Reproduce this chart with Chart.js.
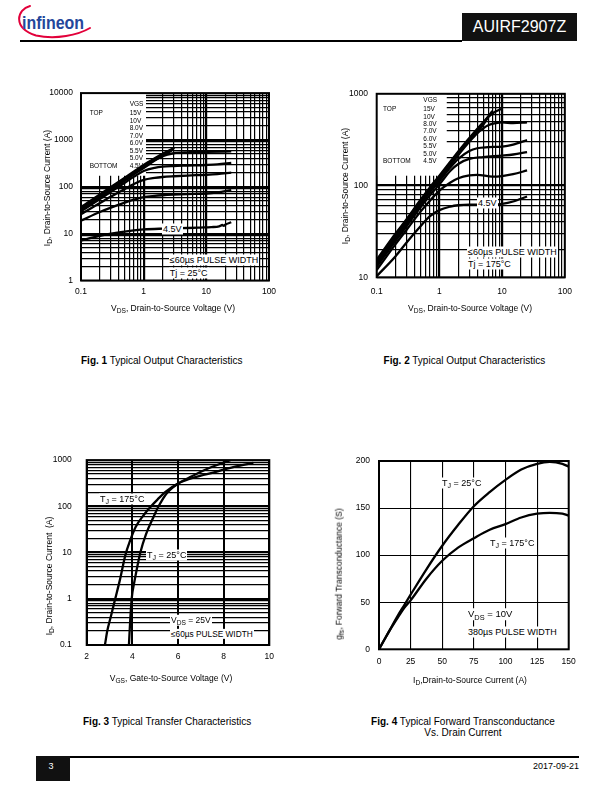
<!DOCTYPE html>
<html><head><meta charset="utf-8">
<script src="https://cdn.jsdelivr.net/npm/chart.js@4.4.1/dist/chart.umd.min.js"></script>
<style>
html,body{margin:0;padding:0;background:#fff;}
#page{position:relative;width:612px;height:792px;overflow:hidden;font-family:"Liberation Sans",Arial,sans-serif;color:#000;}
.abs{position:absolute;white-space:nowrap;line-height:1;}
canvas{position:absolute;}
sub{font-size:78%;vertical-align:-0.35em;line-height:0;}
</style></head>
<body><div id="page">
<svg style="position:absolute;left:0;top:0" width="120" height="45">
  <path d="M30 6 C 17 9, 12 28, 36 35.5 C 56 40, 78 35, 90 28" fill="none" stroke="#e2003a" stroke-width="2" stroke-linecap="round"/>
  <text x="22" y="29" font-family="Liberation Sans Narrow, Liberation Sans, Arial" font-weight="bold" font-size="19" fill="#24469b" textLength="62" lengthAdjust="spacingAndGlyphs">infineon</text>
</svg>
<div style="position:absolute;left:20px;top:40px;width:442px;height:1.5px;background:#000"></div>
<div style="position:absolute;left:461.7px;top:13px;width:115.6px;height:28px;background:#111;color:#fff;font-size:16px;line-height:28px;text-align:center;">AUIRF2907Z</div>
<div style="position:absolute;left:36px;top:755.6px;width:543px;height:2px;background:#000"></div>
<div style="position:absolute;left:36px;top:756px;width:34px;height:25px;background:#111;"></div>
</div>
<script>
// ---------- Fig. 1: Typical Output Characteristics, Tj = 25°C ----------
const fig1_vgs = ['15V','10V','8.0V','7.0V','6.0V','5.5V','5.0V','4.5V'];
const fig1_vds_15V = [0.1,0.15,0.2,0.3,0.5,0.7,1,1.5,2,3.1];
const fig1_id_15V  = [37,53,69,99,157,212,292,405,505,680];
const fig1_vds_10V = [0.1,0.15,0.2,0.3,0.5,0.7,1,1.5,2,3];
const fig1_id_10V  = [35,51,66,95,151,203,282,392,485,645];
const fig1_vds_8V  = [0.1,0.15,0.2,0.3,0.5,0.7,1,1.5,2,2.8];
const fig1_id_8V   = [34,49,63,91,144,194,268,372,455,595];
const fig1_vds_7V  = [0.1,0.2,0.3,0.5,0.7,1,1.5,2,3,5,10,25];
const fig1_id_7V   = [32,59,86,136,186,252,362,450,520,545,555,568];
const fig1_vds_6V  = [0.1,0.2,0.3,0.5,0.7,1,1.5,2,3,5,10,15,25];
const fig1_id_6V   = [30,55,78,122,165,218,255,270,278,284,292,300,322];
const fig1_vds_55V = [0.1,0.2,0.3,0.5,0.7,1,1.5,2,3,5,10,15,25];
const fig1_id_55V  = [26,45,62,90,115,140,155,162,168,174,180,186,200];
const fig1_vds_5V  = [0.1,0.2,0.3,0.5,0.7,1,1.5,2,3,5,10,15,25];
const fig1_id_5V   = [19,29,36,46,53,60,64,66,68,70,72,76,85];
const fig1_vds_45V = [0.1,0.15,0.2,0.3,0.5,0.7,1,2,3,5,8,12,16,18,19,20,25];
const fig1_id_45V  = [7.1,8.2,9,10,11,11.8,12.3,12.8,13,13.2,13.5,13.8,14.3,15.3,14.6,15.5,17.5];
const fig1_xTicks = [0.1,1,10,100];
const fig1_yTicks = [1,10,100,1000,10000];

// ---------- Fig. 2: Typical Output Characteristics, Tj = 175°C ----------
const fig2_vds_15V = [0.1,0.2,0.3,0.5,0.7,1,2,3,5,7,10];
const fig2_id_15V  = [15.5,30,43,70,95,128,235,330,490,610,690];
const fig2_vds_10V = [0.1,0.2,0.3,0.5,0.7,1,2,3,5,7];
const fig2_id_10V  = [15,29,42,68,92,124,228,320,480,650];
const fig2_vds_8V  = [0.1,0.2,0.3,0.5,0.7,1,2,3,5,6];
const fig2_id_8V   = [14.5,28,41,66,90,121,222,312,460,560];
const fig2_vds_7V  = [0.1,0.2,0.3,0.5,0.7,1,2,3,4,5,6,8,10,15,25];
const fig2_id_7V   = [14,27,40,64,87,117,215,300,370,420,455,480,488,478,488];
const fig2_vds_6V  = [0.1,0.2,0.3,0.5,0.7,1,1.5,2,3,4,6,10,15,25];
const fig2_id_6V   = [13.5,26,38,62,84,112,158,195,238,255,262,266,280,313];
const fig2_vds_55V = [0.1,0.2,0.3,0.5,0.7,1,1.5,2,3,5,10,15,25];
const fig2_id_55V  = [13,25,36,58,78,103,145,172,195,204,212,218,231];
const fig2_vds_5V  = [0.1,0.2,0.3,0.5,0.7,1,1.5,2,3,4,7,10,15,25];
const fig2_id_5V   = [12,23,33,52,68,88,108,120,129,131,125,127,133,146];
const fig2_vds_45V = [0.1,0.2,0.3,0.5,0.7,1,1.5,2,3,4,6,10,15,25];
const fig2_id_45V  = [10.3,17,24,36,46,54,59,61,62,62,61,63,67,76];
const fig2_xTicks = [0.1,1,10,100];
const fig2_yTicks = [10,100,1000];

// ---------- Fig. 3: Typical Transfer Characteristics ----------
const fig3_vgs_25C  = [3.85,3.9,3.97,4.1,4.2,4.35,4.6,4.9,5.15,5.5,6,6.5,7,7.5,8,8.3];
const fig3_id_25C   = [0.1,0.3,1,2.5,4.5,10,25,55,100,190,310,420,560,720,880,1000];
const fig3_vgs_175C = [2.8,2.9,3.05,3.25,3.45,3.7,3.9,4.15,4.5,4.75,5.1,5.45,6,6.5,7,7.5,8,8.5,9.3];
const fig3_id_175C  = [0.1,0.2,0.4,1,2.5,9,18,36,65,92,140,205,310,390,460,530,620,720,870];
const fig3_xTicks = [2,4,6,8,10];
const fig3_yTicks = [0.1,1,10,100,1000];

// ---------- Fig. 4: Typical Forward Transconductance vs. Drain Current ----------
const fig4_id_25C   = [0,5,10,15,20,25,37.5,50,62.5,75,87.5,100,112.5,125,135,145,150];
const fig4_gfs_25C  = [0,12,24,36,47,58,85,110,132,152,167,180,191,197,199,197,194];
const fig4_id_175C  = [0,5,10,15,20,25,37.5,50,62.5,75,87.5,100,112.5,125,135,145,150];
const fig4_gfs_175C = [0,12,23.5,34,44,52,75,94,108,118,127,133,140,144,145,144,142];
const fig4_xTicks = [0,25,50,75,100,125,150];
const fig4_yTicks = [0,50,100,150,200];

// ---------------- rendering ----------------
const FONT = '"Liberation Sans", Arial, sans-serif';
Chart.defaults.font.family = FONT;
Chart.defaults.color = '#000';
const page = document.getElementById('page');

function txt(html, x, y, size, o = {}) {
  const d = document.createElement('div');
  d.className = 'abs'; d.innerHTML = html;
  d.style.left = x + 'px'; d.style.top = y + 'px'; d.style.fontSize = size + 'px';
  let tf = o.align === 'center' ? 'translate(-50%,-50%)' : o.align === 'right' ? 'translate(-100%,-50%)' : 'translate(0,-50%)';
  if (o.rot) tf = 'translate(-50%,-50%) rotate(-90deg)';
  d.style.transform = tf;
  if (o.bg) { d.style.background = '#fff'; d.style.padding = '1px 1px'; }
  if (o.bold) d.style.fontWeight = 'bold';
  if (o.color) d.style.color = o.color;
  if (o.lh) d.style.lineHeight = o.lh;
  if (o.ta) d.style.textAlign = o.ta;
  page.appendChild(d); return d;
}

function logGrid(min, max) {
  const out = [];
  for (let e = Math.round(Math.log10(min)); e < Math.round(Math.log10(max)); e++)
    for (let m = 1; m < 10; m++) out.push(+(m * Math.pow(10, e)).toPrecision(3));
  out.push(max);
  return out;
}
const near = (a, b) => Math.abs(a - b) < 1e-9 * Math.max(1, Math.abs(b));
const inList = (v, list) => list.some(t => near(v, t));

const framePlugin = {
  id: 'frame',
  beforeDatasetsDraw(chart, args, opts) {
    if (!opts || !opts.box) return;
    const { x, y } = chart.scales, c = chart.ctx, b = opts.box;
    const x0 = x.getPixelForValue(b.x0), x1 = x.getPixelForValue(b.x1);
    const y0 = y.getPixelForValue(b.y0), y1 = y.getPixelForValue(b.y1);
    c.save(); c.fillStyle = '#fff';
    c.fillRect(Math.min(x0, x1), Math.min(y0, y1), Math.abs(x1 - x0), Math.abs(y1 - y0));
    c.restore();
  },
  afterDraw(chart) {
    const a = chart.chartArea, c = chart.ctx;
    c.save(); c.strokeStyle = '#000'; c.lineWidth = 2;
    c.strokeRect(a.left, a.top, a.right - a.left, a.bottom - a.top);
    c.restore();
  }
};

function axis(o) {
  const s = {
    type: o.type, min: o.min, max: o.max,
    afterFit: ax => { if (o.w !== undefined) ax.width = o.w; if (o.h !== undefined) ax.height = o.h; },
    ticks: {
      autoSkip: false, maxRotation: 0, minRotation: 0, padding: o.pad, color: '#000',
      font: { size: 8.5, family: FONT },
      callback: v => inList(v, o.labels) ? String(+(+v).toPrecision(6)) : ''
    },
    grid: {
      color: '#000', drawTicks: false,
      lineWidth: c => (c.tick && inList(c.tick.value, o.majors || [])) ? (o.majorW || 2.2) : (o.minorW || 1.2)
    },
    border: { display: false }
  };
  if (o.gridVals) s.afterBuildTicks = ax => { ax.ticks = o.gridVals.map(v => ({ value: v })); };
  return s;
}

function makeChart(left, top, w, h, pad, xs, ys, series, box) {
  const cv = document.createElement('canvas');
  cv.width = w; cv.height = h;
  cv.style.left = left + 'px'; cv.style.top = top + 'px';
  cv.style.width = w + 'px'; cv.style.height = h + 'px';
  page.appendChild(cv);
  return new Chart(cv, {
    type: 'scatter',
    data: {
      datasets: series.map(([xv, yv]) => ({
        data: xv.map((x, i) => ({ x, y: yv[i] })),
        showLine: true, borderColor: '#000', borderWidth: 2.3, pointRadius: 0,
        cubicInterpolationMode: 'monotone', fill: false
      }))
    },
    options: {
      responsive: false, animation: false, devicePixelRatio: 1,
      layout: { padding: pad },
      plugins: { legend: { display: false }, tooltip: { enabled: false }, frame: { box } },
      scales: { x: xs, y: ys }
    },
    plugins: [framePlugin]
  });
}

// Fig 1
makeChart(0, 80, 300, 240, { left: 0, top: 13, right: 31, bottom: 19.5 },
  axis({ type: 'logarithmic', min: 0.1, max: 100, h: 20, pad: 6, labels: fig1_xTicks, majors: [1, 10], gridVals: logGrid(0.1, 100) }),
  axis({ type: 'logarithmic', min: 1, max: 10000, w: 81, pad: 8, labels: fig1_yTicks, majors: [10, 100, 1000], gridVals: logGrid(1, 10000) }),
  [[fig1_vds_15V, fig1_id_15V], [fig1_vds_10V, fig1_id_10V], [fig1_vds_8V, fig1_id_8V], [fig1_vds_7V, fig1_id_7V],
   [fig1_vds_6V, fig1_id_6V], [fig1_vds_55V, fig1_id_55V], [fig1_vds_5V, fig1_id_5V], [fig1_vds_45V, fig1_id_45V]],
  { x0: 0.1, x1: 1.09, y0: 10000, y1: 172 });

// Fig 2
makeChart(306, 80, 300, 240, { left: 0, top: 11, right: 41.2, bottom: 22.7 },
  axis({ type: 'logarithmic', min: 0.1, max: 100, h: 20, pad: 9, labels: fig2_xTicks, majors: [1, 10], gridVals: logGrid(0.1, 100) }),
  axis({ type: 'logarithmic', min: 10, max: 1000, w: 70.7, pad: 8.7, labels: fig2_yTicks, majors: [100], gridVals: logGrid(10, 1000) }),
  [[fig2_vds_15V, fig2_id_15V], [fig2_vds_10V, fig2_id_10V], [fig2_vds_8V, fig2_id_8V], [fig2_vds_7V, fig2_id_7V],
   [fig2_vds_6V, fig2_id_6V], [fig2_vds_55V, fig2_id_55V], [fig2_vds_5V, fig2_id_5V], [fig2_vds_45V, fig2_id_45V]],
  { x0: 0.1, x1: 1.31, y0: 1000, y1: 128 });

// Fig 3
makeChart(0, 440, 300, 240, { left: 0, top: 20, right: 30.7, bottom: 15 },
  axis({ type: 'linear', min: 2, max: 10, h: 20, pad: 6.6, labels: fig3_xTicks, majors: fig3_xTicks, majorW: 2, gridVals: fig3_xTicks }),
  axis({ type: 'logarithmic', min: 0.1, max: 1000, w: 86.7, pad: 15, labels: fig3_yTicks, majors: [1, 10, 100], gridVals: logGrid(0.1, 1000) }),
  [[fig3_vgs_25C, fig3_id_25C], [fig3_vgs_175C, fig3_id_175C]], null);

// Fig 4
makeChart(306, 440, 300, 240, { left: 0, top: 21, right: 37.3, bottom: 10.7 },
  axis({ type: 'linear', min: 0, max: 150, h: 20, pad: 7.3, labels: fig4_xTicks, majors: [], minorW: 1.1, gridVals: fig4_xTicks }),
  axis({ type: 'linear', min: 0, max: 200, w: 73, pad: 9, labels: fig4_yTicks, majors: [], minorW: 1.1, gridVals: fig4_yTicks }),
  [[fig4_id_25C, fig4_gfs_25C], [fig4_id_175C, fig4_gfs_175C]], null);

// ---------- texts ----------
// Fig 1 legend + notes
txt('VGS', 129.7, 104, 6.5);
txt('TOP', 89.7, 113.3, 6.5);
txt('BOTTOM', 89.7, 166, 6.5);
fig1_vgs.forEach((s, i) => txt(s, 129.7, 113.3 + i * 7.53, 6.5));
txt('4.5V', 162, 229.3, 9, { bg: true });
txt('≤60µs PULSE WIDTH', 168.7, 260, 9, { bg: true });
txt('Tj = 25°C', 168.7, 272.7, 9, { bg: true });
txt('I<sub>D</sub>, Drain-to-Source Current (A)', 47, 188, 8.5, { rot: true });
txt('V<sub>DS</sub>, Drain-to-Source Voltage (V)', 173, 308, 8.5, { align: 'center' });
// Fig 2
txt('VGS', 423.3, 100, 6.5);
txt('TOP', 383, 109.3, 6.5);
txt('BOTTOM', 383, 161, 6.5);
fig1_vgs.forEach((s, i) => txt(s, 423.3, 109.3 + i * 7.39, 6.5));
txt('4.5V', 477, 203.3, 9, { bg: true });
txt('≤60µs PULSE WIDTH', 467, 252, 9, { bg: true });
txt('Tj = 175°C', 467, 264.3, 9, { bg: true });
txt('I<sub>D</sub>, Drain-to-Source Current (A)', 345, 186, 8.5, { rot: true });
txt('V<sub>DS</sub>, Drain-to-Source Voltage (V)', 470, 308, 8.5, { align: 'center' });
// Fig 3
txt('T<sub>J</sub> = 175°C', 99, 499, 9, { bg: true });
txt('T<sub>J</sub> = 25°C', 146, 555, 9, { bg: true });
txt('V<sub>DS</sub> = 25V', 170, 620, 8.5, { bg: true });
txt('≤60µs PULSE WIDTH', 170, 634, 8.3, { bg: true });
txt('I<sub>D</sub>, Drain-to-Source Current&nbsp; (A)', 49, 576, 8.5, { rot: true });
txt('V<sub>GS</sub>, Gate-to-Source Voltage (V)', 171, 678, 8.5, { align: 'center' });
// Fig 4
txt('T<sub>J</sub> = 25°C', 441, 483, 9, { bg: true });
txt('T<sub>J</sub> = 175°C', 489, 543, 9, { bg: true });
txt('V<sub>DS</sub> = 10V', 467, 614, 9.5, { bg: true });
txt('380µs PULSE WIDTH', 467, 632, 9, { bg: true });
txt('g<sub>fs</sub>, Forward Transconductance (S)', 339, 574, 8.5, { rot: true });
txt('I<sub>D</sub>,Drain-to-Source Current (A)', 470, 680, 8.5, { align: 'center' });
// captions
txt('<b>Fig. 1</b> Typical Output Characteristics', 81, 361, 10);
txt('<b>Fig. 2</b> Typical Output Characteristics', 383.6, 361, 10);
txt('<b>Fig. 3</b> Typical Transfer Characteristics', 83, 721.5, 10);
txt('<b>Fig. 4</b> Typical Forward Transconductance<br>Vs. Drain Current', 463, 726.5, 10, { align: 'center', lh: '11px', ta: 'center' });
// footer
txt('3', 51, 765.6, 9, { align: 'center', color: '#fff' });
txt('2017-09-21', 579, 765.6, 9, { align: 'right' });
</script>
</body></html>
